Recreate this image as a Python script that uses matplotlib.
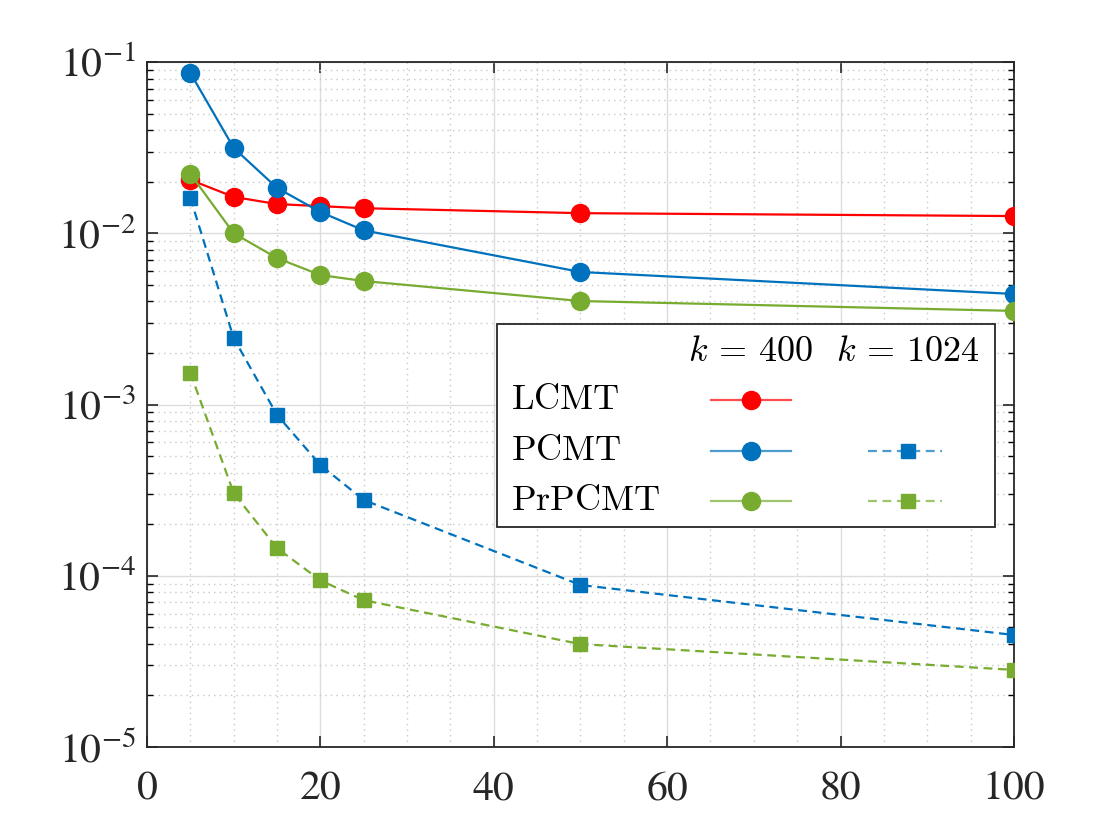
import numpy as np
import matplotlib
matplotlib.use("Agg")
import matplotlib.pyplot as plt
from matplotlib.ticker import MultipleLocator, LogLocator, FixedLocator, NullFormatter
from matplotlib.patches import Rectangle
from matplotlib.lines import Line2D

plt.rcParams['font.family'] = ['STIXGeneral', 'DejaVu Serif']
plt.rcParams['mathtext.fontset'] = 'stix'

# x axis values
x = [5, 10, 15, 20, 25, 50, 100]

# k = 400
lcmt_400 = [0.0205, 0.0163, 0.0148, 0.0144, 0.0140, 0.0131, 0.0126]
pcmt_400 = [0.0863, 0.0315, 0.0184, 0.0133, 0.0104, 0.00594, 0.00442]
prpcmt_400 = [0.0222, 0.0100, 0.00716, 0.00570, 0.00526, 0.00402, 0.00352]

# k = 1024
pcmt_1024 = [0.0161, 0.00244, 8.69e-4, 4.43e-4, 2.77e-4, 8.83e-5, 4.51e-5]
prpcmt_1024 = [1.53e-3, 3.04e-4, 1.45e-4, 9.4e-5, 7.2e-5, 3.99e-5, 2.82e-5]

RED = '#FF0000'
BLUE = '#0072BD'
GREEN = '#77AC30'

fig = plt.figure(figsize=(11.2, 8.4), dpi=100)
ax = fig.add_axes([0.13125, 0.1107, 0.774, 0.8155])

lw = 1.6
ax.plot(x, lcmt_400, '-o', color=RED, lw=lw, ms=13, zorder=5)
ax.plot(x, pcmt_400, '-o', color=BLUE, lw=lw, ms=13, zorder=5)
ax.plot(x, prpcmt_400, '-o', color=GREEN, lw=lw, ms=13, zorder=5)
ax.plot(x, pcmt_1024, '--s', color=BLUE, lw=lw, ms=9.5, dashes=(4, 2.5), zorder=5)
ax.plot(x, prpcmt_1024, '--s', color=GREEN, lw=lw, ms=9.5, dashes=(4, 2.5), zorder=5)

ax.set_yscale('log')
ax.set_xlim(0, 100)
ax.set_ylim(1e-5, 1e-1)

ax.xaxis.set_major_locator(MultipleLocator(20))
ax.xaxis.set_minor_locator(MultipleLocator(5))
ax.yaxis.set_major_locator(FixedLocator([1e-5, 1e-4, 1e-3, 1e-2, 1e-1]))
ax.yaxis.set_minor_locator(LogLocator(base=10, subs=np.arange(2, 10)))
ax.yaxis.set_minor_formatter(NullFormatter())
ax.set_yticklabels([r'$\mathregular{10^{-%d}}$' % e for e in [5, 4, 3, 2, 1]])

ax.tick_params(axis='both', which='major', direction='in', length=8, width=1.2,
               top=True, right=True, labelsize=30, colors='#262626')
ax.tick_params(axis='y', which='minor', direction='in', length=4, width=1.0,
               left=True, right=True)
ax.tick_params(axis='x', which='minor', length=0, top=False, bottom=False)
ax.tick_params(axis='x', which='major', pad=17)
ax.tick_params(axis='y', which='major', pad=8)

ax.grid(True, which='major', color='#dcdcdc', lw=1.0, ls='-', zorder=0)
ax.grid(True, which='minor', color='#c8c8c8', lw=1.0, ls=(0, (1, 3)), zorder=0)
ax.set_axisbelow(True)
for s in ax.spines.values():
    s.set_color('#262626')
    s.set_linewidth(1.3)

# custom legend
lx0, lx1 = 0.4037, 0.978
ly0, ly1 = 0.321, 0.6175
ax.add_patch(Rectangle((lx0, ly0), lx1 - lx0, ly1 - ly0, transform=ax.transAxes,
                       facecolor='white', edgecolor='#262626', lw=1.3, zorder=10))

def px2ax(px, py):
    return (px - 147) / 867, (747 - py) / 685

hy = px2ax(0, 352)[1]
ax.text(px2ax(750, 0)[0], hy, r'$k\,=\,400$', transform=ax.transAxes,
        ha='center', va='center', fontsize=26, math_fontfamily='cm', zorder=11)
ax.text(px2ax(908, 0)[0], hy, r'$k\,=\,1024$', transform=ax.transAxes,
        ha='center', va='center', fontsize=26, math_fontfamily='cm', zorder=11)

rows = [('LCMT', RED, True, False, 400),
        ('PCMT', BLUE, True, True, 451),
        ('PrPCMT', GREEN, True, True, 501)]
for name, c, has400, has1024, py in rows:
    yy = px2ax(0, py)[1]
    ax.text(px2ax(511, 0)[0], yy, r'$\mathrm{%s}$' % name, transform=ax.transAxes,
            ha='left', va='center', fontsize=26, math_fontfamily='cm', zorder=11)
    if has400:
        ax.add_line(Line2D([px2ax(711, 0)[0], px2ax(791, 0)[0]], [yy, yy],
                           transform=ax.transAxes, color=c, lw=lw, alpha=0.7, zorder=11))
        ax.add_line(Line2D([px2ax(751, 0)[0]], [yy], transform=ax.transAxes,
                           marker='o', ms=13, color=c, lw=0, zorder=12))
    if has1024:
        ax.add_line(Line2D([px2ax(868, 0)[0], px2ax(942, 0)[0]], [yy, yy],
                           transform=ax.transAxes, color=c, lw=lw, alpha=0.7,
                           ls='--', dashes=(4, 2.5), zorder=11))
        ax.add_line(Line2D([px2ax(908, 0)[0]], [yy], transform=ax.transAxes,
                           marker='s', ms=9.5, color=c, lw=0, zorder=12))

fig.savefig('out.png', dpi=100)
